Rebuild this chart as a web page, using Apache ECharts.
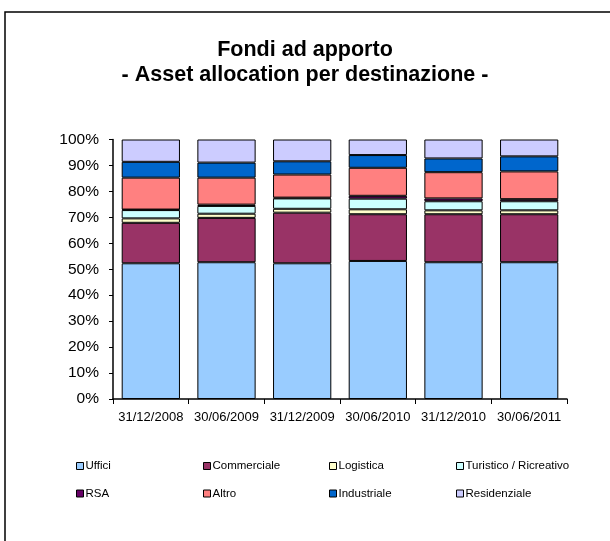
<!DOCTYPE html>
<html>
<head>
<meta charset="utf-8">
<script src="https://cdn.jsdelivr.net/npm/echarts@6/dist/echarts.min.js"></script>
<style>
    html, body { margin: 0; padding: 0; background: #fff; }
    #chart { width: 610px; height: 541px; }
</style>
</head>
<body>
<div id="chart"></div>
<script>
const categories = ["31/12/2008", "30/06/2009", "31/12/2009", "30/06/2010", "31/12/2010", "30/06/2011"];

const uffici = [52.3, 52.7, 52.3, 53.2, 52.7, 52.7];
const commerciale = [15.6, 17.1, 19.5, 18.0, 18.5, 18.5];
const logistica = [1.7, 1.6, 1.5, 1.9, 1.5, 1.5];
const turistico = [3.2, 3.0, 4.0, 4.1, 3.5, 3.5];
const rsa = [0.2, 0.5, 0.3, 1.1, 1.1, 0.8];
const altro = [12.3, 10.4, 8.9, 10.8, 10.1, 10.7];
const industriale = [6.1, 5.8, 5.1, 4.9, 5.3, 5.8];
const residenziale = [8.6, 8.9, 8.4, 6.0, 7.3, 6.5];

const seriesNames = ["Uffici", "Commerciale", "Logistica", "Turistico / Ricreativo", "RSA", "Altro", "Industriale", "Residenziale"];
const seriesData = [uffici, commerciale, logistica, turistico, rsa, altro, industriale, residenziale];
const colors = ["#99ccff", "#993366", "#ffffcc", "#ccffff", "#660066", "#ff8080", "#0066cc", "#ccccff"];

const chart = echarts.init(document.getElementById("chart"));

const font = "Liberation Sans, Arial, sans-serif";

// legend: 2 rows x 4 columns, one legend per item so the columns line up
const legendCols = [76, 203, 329, 456];
const legendRows = [460, 487.5];
const legends = seriesNames.map((name, i) => ({
    data: [name],
    left: legendCols[i % 4],
    top: legendRows[Math.floor(i / 4)],
    itemWidth: 7,
    itemHeight: 7,
    itemGap: 0,
    padding: 0,
    selectedMode: false,
    icon: "rect",
    itemStyle: { borderColor: "#000", borderWidth: 1 },
    textStyle: { fontFamily: font, fontSize: 11.5, color: "#000", padding: [0, 0, 0, -3] },
}));

let options = {
    animation: false,
    backgroundColor: "#fff",
    color: colors,
    title: {
        text: "Fondi ad apporto\n- Asset allocation per destinazione -",
        left: "center",
        top: 33,
        textStyle: {
            fontFamily: font,
            fontSize: 21.5,
            fontWeight: "bold",
            color: "#000",
            lineHeight: 25,
        },
    },
    graphic: [
        {
            type: "rect",
            shape: { x: 5, y: 12, width: 700, height: 600 },
            style: { fill: "none", stroke: "#000", lineWidth: 1.5 },
            silent: true,
        },
    ],
    legend: legends,
    grid: {
        left: 113,
        right: 43,
        top: 139.5,
        bottom: 142,
    },
    xAxis: {
        type: "category",
        data: categories,
        axisLine: { show: true, lineStyle: { color: "#000", width: 1.5 } },
        axisTick: { show: true, length: 5, lineStyle: { color: "#000" } },
        axisLabel: { interval: 0, fontFamily: font, fontSize: 13, color: "#000", margin: 12 },
    },
    yAxis: {
        type: "value",
        min: 0,
        max: 100,
        interval: 10,
        axisLine: { show: true, lineStyle: { color: "#000", width: 1.5 } },
        axisTick: { show: true, length: 4, lineStyle: { color: "#000" } },
        splitLine: { show: false },
        axisLabel: { formatter: "{value}%", fontFamily: font, fontSize: 15.5, color: "#000", margin: 14 },
    },
    series: seriesData.map((d, i) => ({
        name: seriesNames[i],
        type: "bar",
        stack: "tot",
        barCategoryGap: "23%",
        data: d,
        itemStyle: { borderColor: "#000", borderWidth: 1 },
    })),
};

chart.setOption(options);
</script>
</body>
</html>
